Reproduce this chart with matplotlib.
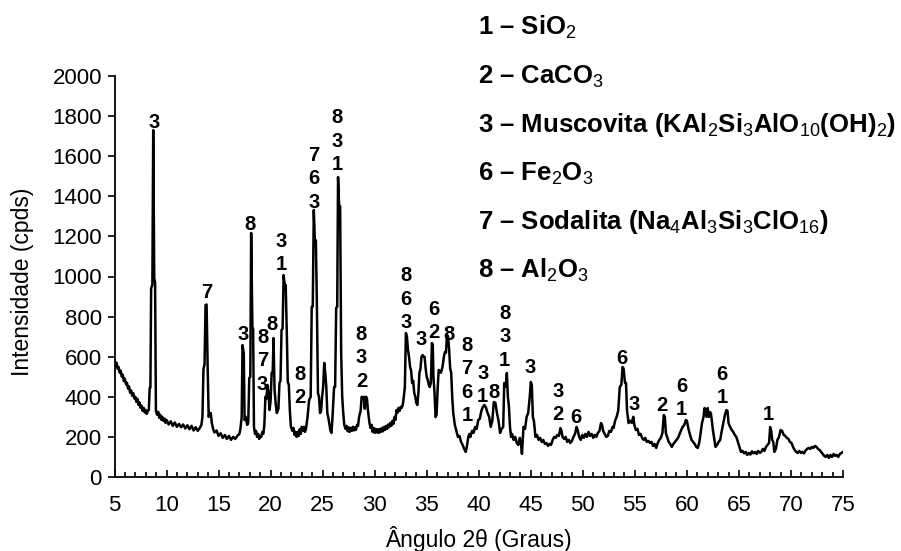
import matplotlib
matplotlib.use("Agg")
import matplotlib.pyplot as plt
from matplotlib.ticker import MultipleLocator

# XRD pattern (2theta in degrees, counts)
two_theta = [
    5.0, 5.1, 5.2, 5.3, 5.4, 5.5, 5.6, 5.7, 5.8, 5.9, 6.0, 6.1, 6.2, 6.3, 6.4, 6.5, 6.6, 6.7, 6.8, 6.9, 7.0,
    7.1, 7.2, 7.3, 7.4, 7.5, 7.6, 7.7, 7.8, 7.9, 8.0, 8.1, 8.2, 8.3,
    8.38, 8.45, 8.52, 8.64, 8.72, 8.82, 8.9, 8.98,
    9.1, 9.2, 9.3, 9.4, 9.5, 9.6, 9.7, 9.8, 9.9, 10.0, 10.2, 10.4, 10.6, 10.8, 11.0,
    11.2, 11.4, 11.6, 11.8, 12.0, 12.2, 12.4, 12.6, 12.8, 13.0, 13.2, 13.35,
    13.45, 13.55, 13.65, 13.75, 13.85, 13.95, 14.05, 14.15, 14.25, 14.35,
    14.5, 14.6, 14.8, 15.0, 15.2, 15.4, 15.6, 15.8, 16.0, 16.2, 16.4, 16.6, 16.8, 17.0, 17.1,
    17.22, 17.3, 17.42, 17.5, 17.6, 17.75, 17.85, 17.95, 18.05, 18.13, 18.25, 18.32, 18.4,
    18.5, 18.6, 18.7, 18.8, 18.9, 19.0, 19.1, 19.2, 19.3, 19.4,
    19.5, 19.6, 19.7, 19.8, 19.9, 20.0, 20.1, 20.2, 20.28, 20.38, 20.5, 20.6, 20.75,
    20.85, 20.95, 21.05, 21.15, 21.25, 21.35, 21.45, 21.55, 21.65, 21.75, 21.85, 21.95,
    22.1, 22.2, 22.3, 22.4, 22.5, 22.6, 22.7, 22.8, 22.9, 23.0, 23.1, 23.2, 23.3, 23.4,
    23.55, 23.7, 23.85, 23.95, 24.05, 24.15, 24.25, 24.35, 24.45, 24.55, 24.65, 24.75,
    24.85, 24.95, 25.05, 25.15, 25.25, 25.35, 25.45, 25.6, 25.75, 25.85, 25.95, 26.1,
    26.2, 26.3, 26.4, 26.48, 26.58, 26.68, 26.78, 26.88, 26.98, 27.08,
    27.2, 27.3, 27.4, 27.5, 27.6, 27.7, 27.8, 27.9, 28.0, 28.1, 28.2, 28.3, 28.4, 28.5,
    28.65, 28.75, 28.85, 28.95, 29.05, 29.15, 29.25, 29.35, 29.5, 29.6, 29.7, 29.8, 29.9, 30.0,
    30.1, 30.2, 30.3, 30.4, 30.5, 30.6, 30.7, 30.8, 30.9, 31.0, 31.1, 31.2, 31.3, 31.4,
    31.5, 31.6, 31.7, 31.8, 31.9, 32.0, 32.1, 32.2, 32.3, 32.4, 32.5, 32.6, 32.7,
    32.8, 32.9, 33.0, 33.1, 33.2, 33.3, 33.4, 33.5, 33.6, 33.7, 33.8, 33.9, 34.0, 34.1,
    34.2, 34.3, 34.4, 34.5, 34.6, 34.7, 34.8, 34.9, 35.0, 35.1, 35.2, 35.3, 35.4,
    35.5, 35.58, 35.65, 35.75, 35.85, 35.95, 36.05, 36.15, 36.25, 36.35, 36.45, 36.55,
    36.65, 36.75, 36.85, 36.95, 37.05, 37.15, 37.25, 37.35, 37.45, 37.55,
    37.7, 37.85, 38.0, 38.15, 38.3, 38.45, 38.6, 38.75, 38.85, 39.0, 39.1, 39.2,
    39.35, 39.5, 39.65, 39.8, 39.95, 40.1, 40.25, 40.4, 40.55, 40.7, 40.85, 41.0,
    41.15, 41.3, 41.45, 41.6, 41.75, 41.9, 42.05, 42.2, 42.35, 42.45, 42.6, 42.7,
    42.8, 42.9, 43.0, 43.1, 43.2, 43.35, 43.5, 43.65, 43.8, 43.95, 44.05, 44.15,
    44.3, 44.45, 44.6, 44.75, 44.9, 45.0, 45.1, 45.2, 45.3, 45.45, 45.6, 45.75,
    45.9, 46.05, 46.2, 46.35, 46.5, 46.65, 46.8, 46.95, 47.1, 47.25, 47.4, 47.55,
    47.7, 47.85, 47.95, 48.05, 48.2, 48.35, 48.5, 48.65, 48.8, 48.95, 49.1, 49.25,
    49.4, 49.5, 49.65, 49.8, 49.95,
    50.1, 50.25, 50.4, 50.55, 50.7, 50.85, 51.0, 51.15, 51.3, 51.45, 51.6, 51.75,
    51.85, 51.95, 52.1, 52.25, 52.4, 52.55, 52.7, 52.85, 52.95, 53.1, 53.25, 53.4,
    53.55, 53.7, 53.82, 53.92, 54.05, 54.15, 54.25, 54.4, 54.55, 54.7, 54.85, 54.95,
    55.1, 55.25, 55.4, 55.55, 55.7, 55.85, 56.0, 56.15, 56.3, 56.45, 56.6, 56.75,
    56.9, 57.05, 57.2, 57.35, 57.5, 57.65, 57.78, 57.88, 57.98, 58.1, 58.25, 58.4,
    58.55, 58.7, 58.85, 59.0, 59.15, 59.3, 59.45, 59.6, 59.75, 59.9, 60.0, 60.15,
    60.3, 60.45, 60.6, 60.75, 60.9, 61.05,
    61.2, 61.35, 61.45, 61.6, 61.7, 61.8, 61.9, 62.0, 62.1, 62.2, 62.3, 62.4,
    62.5, 62.6, 62.75, 62.9, 63.05, 63.2, 63.35, 63.5, 63.65, 63.8, 63.9, 64.0,
    64.15, 64.3, 64.45, 64.6, 64.75, 64.9, 65.05,
    65.2, 65.35, 65.5, 65.65, 65.8, 65.95, 66.1, 66.25, 66.4, 66.55, 66.7, 66.85,
    67.0, 67.15, 67.3, 67.45, 67.6, 67.75, 67.9, 68.0, 68.1, 68.2, 68.3, 68.4,
    68.55, 68.7, 68.85, 69.0, 69.15, 69.3, 69.45, 69.6, 69.75, 69.9, 70.05, 70.2,
    70.35, 70.5, 70.65, 70.8, 70.95, 71.1, 71.25, 71.4, 71.55, 71.7, 71.85, 72.0,
    72.15, 72.3, 72.45, 72.6, 72.75, 72.9, 73.05, 73.2, 73.35, 73.5, 73.65, 73.8,
    73.95, 74.1, 74.25, 74.4, 74.55, 74.7, 74.85, 75.0,
]
intensity = [
    580, 555, 570, 540, 548, 520, 530, 500, 510, 478, 490, 462, 470, 440, 452, 420, 432, 405, 418, 392, 400,
    375, 390, 360, 372, 345, 356, 330, 345, 322, 335, 315, 328, 335,
    445, 445, 940, 960, 1730, 990, 970, 330,
    310, 325, 295, 310, 285, 300, 280, 292, 270, 285, 262, 278, 255, 272, 250,
    265, 248, 262, 242, 258, 238, 255, 232, 248, 230, 245, 260,
    300, 540, 560, 858, 860, 550, 300, 320, 318, 270,
    235, 222, 232, 205, 218, 195, 210, 190, 205, 185, 200, 190, 205, 215, 240,
    300, 658, 618, 284, 300, 260, 270, 494, 500, 1217, 748, 740, 250,
    215, 230, 200, 215, 190, 205, 200, 225, 215, 260,
    400, 390, 459, 420, 334, 380, 519, 520, 693, 434, 360, 319, 340,
    469, 480, 733, 740, 1007, 960, 958, 733, 474, 460, 330, 250,
    230, 245, 210, 225, 200, 225, 205, 238, 215, 250, 230, 250, 225, 240,
    300, 384, 400, 848, 850, 1332, 1182, 1180, 848, 419, 400, 319,
    330, 400, 449, 569, 519, 450, 319, 280, 230, 220, 300, 449,
    450, 843, 850, 1496, 1357, 1350, 618, 400, 319, 260,
    240, 255, 228, 248, 225, 245, 230, 250, 232, 248, 235, 260, 255, 299,
    330, 400, 395, 400, 340, 400, 395, 334, 269, 245, 260, 225, 245, 220,
    240, 222, 238, 220, 240, 225, 245, 228, 250, 235, 255, 240, 262, 248,
    270, 255, 280, 265, 300, 285, 334, 320, 345, 330, 350, 345, 360,
    400, 449, 718, 700, 633, 600, 550, 530, 469, 480, 420, 400, 370, 359,
    420, 519, 540, 600, 608, 600, 599, 540, 500, 484, 460, 449, 470,
    668, 660, 499, 420, 299, 310, 440, 534, 530, 520, 534, 560,
    600, 623, 620, 708, 700, 640, 543, 520, 400, 319,
    260, 230, 200, 205, 175, 160, 140, 125, 150, 200, 215, 200,
    230, 220, 250, 240, 284, 290, 330, 350, 359, 345, 319, 300,
    250, 280, 374, 370, 319, 280, 220, 240, 250, 469, 450, 519,
    400, 350, 250, 200, 215, 185, 200, 170, 160, 195, 170, 115,
    250, 240, 300, 319, 400, 474, 460, 299, 280, 200, 210, 185,
    195, 175, 185, 165, 170, 155, 165, 160, 185, 200, 195, 210,
    205, 244, 230, 200, 190, 200, 175, 185, 170, 180, 200, 215,
    250, 235, 200, 185, 210,
    195, 215, 200, 225, 205, 215, 195, 210, 200, 220, 230, 269,
    260, 230, 215, 200, 205, 230, 225, 250, 244, 280, 300, 330,
    449, 460, 549, 540, 469, 470, 330, 269, 280, 270, 300, 260,
    234, 240, 210, 215, 195, 185, 195, 175, 180, 170, 175, 155,
    165, 145, 170, 185, 195, 220, 309, 300, 219, 200, 175, 165,
    150, 165, 175, 185, 195, 215, 234, 250, 260, 284, 280, 240,
    210, 185, 175, 165, 150, 145,
    175, 230, 269, 300, 344, 330, 300, 344, 300, 324, 320, 280,
    234, 200, 150, 160, 175, 185, 230, 270, 309, 334, 330, 269,
    250, 235, 225, 210, 200, 175, 150,
    125, 130, 118, 125, 110, 120, 112, 128, 118, 125, 115, 130,
    120, 125, 140, 130, 150, 160, 170, 249, 230, 185, 175, 125,
    140, 185, 200, 234, 230, 210, 205, 195, 190, 175, 170, 150,
    135, 125, 120, 130, 120, 125, 118, 132, 140, 145, 140, 150,
    145, 155, 150, 140, 135, 125, 115, 105, 100, 110, 95, 110,
    100, 115, 105, 110, 100, 115, 120, 125,
]

# phase labels above the peaks: position, height of the lowest digit, stacked text
label_pos = [8.79, 13.88, 17.34, 18.05, 19.23, 20.16, 21.05, 22.81, 24.19, 26.40,
             28.73, 33.0, 34.43, 35.68, 37.15, 38.88, 40.38, 41.5, 42.5, 44.97,
             47.62, 49.38, 53.8, 54.89, 57.64, 59.47, 63.4, 67.78]
label_base = [1741, 893, 683, 1232, 434, 733, 1032, 369, 1342, 1531,
              449, 743, 658, 693, 683, 279, 374, 394, 554, 519,
              284, 269, 564, 334, 329, 309, 369, 284]
label_text = ["3", "7", "3", "8", "8\n7\n3", "8", "3\n1", "8\n2", "7\n6\n3", "8\n3\n1",
              "8\n3\n2", "8\n6\n3", "3", "6\n2", "8", "8\n7\n6\n1", "3\n1", "8", "8\n3\n1", "3",
              "3\n2", "6", "6", "3", "2", "6\n1", "6\n1", "1"]

phase_num = ["1", "2", "3", "6", "7", "8"]
phase_name = ["SiO$_2$", "CaCO$_3$", "Muscovita (KAl$_2$Si$_3$AlO$_{10}$(OH)$_2$)",
              "Fe$_2$O$_3$", "Sodalita (Na$_4$Al$_3$Si$_3$ClO$_{16}$)", "Al$_2$O$_3$"]

x_ticks = [5, 10, 15, 20, 25, 30, 35, 40, 45, 50, 55, 60, 65, 70, 75]
y_ticks = [0, 200, 400, 600, 800, 1000, 1200, 1400, 1600, 1800, 2000]

plt.rcParams['font.family'] = ['Liberation Sans', 'DejaVu Sans']
plt.rcParams['mathtext.fontset'] = 'custom'
plt.rcParams['mathtext.rm'] = 'Liberation Sans'
plt.rcParams['mathtext.default'] = 'rm'

W, H = 901, 551
fig = plt.figure(figsize=(W / 100, H / 100), dpi=100)
ax = fig.add_axes([114.5 / W, 74 / H, 728.5 / W, 401 / H])

ax.plot(two_theta, intensity, color="black", lw=1.8)

ax.set_xlim(5, 75)
ax.set_ylim(0, 2000)
ax.set_xticks(x_ticks)
ax.set_yticks(y_ticks)
ax.xaxis.set_minor_locator(MultipleLocator(1))
ax.tick_params(axis="x", which="both", direction="in", labelsize=16, pad=13, width=1.2)
ax.tick_params(axis="x", which="major", length=5)
ax.tick_params(axis="x", which="minor", length=3.5)
ax.tick_params(axis="y", direction="out", length=5, labelsize=16, pad=4, width=1.2)
ax.spines["top"].set_visible(False)
ax.spines["right"].set_visible(False)
ax.spines["left"].set_linewidth(1.3)
ax.spines["bottom"].set_linewidth(1.3)

ax.set_xlabel("Ângulo 2θ (Graus)", fontsize=16.5)
ax.set_ylabel("Intensidade (cpds)", fontsize=16.5)
ax.xaxis.set_label_coords(0.5, -0.122)
ax.yaxis.set_label_coords(-0.11, 0.486)

for px, py, txt in zip(label_pos, label_base, label_text):
    ax.text(px, py, txt, ha="center", va="baseline", fontsize=14.5,
            fontweight="bold", linespacing=1.3)

for i, (num, name) in enumerate(zip(phase_num, phase_name)):
    fig.text(478 / W, 1 - (35 + i * 48.6) / H, num + " – " + name,
             fontsize=18.5, fontweight="bold", ha="left", va="baseline")

fig.savefig("out.png", dpi=100)
